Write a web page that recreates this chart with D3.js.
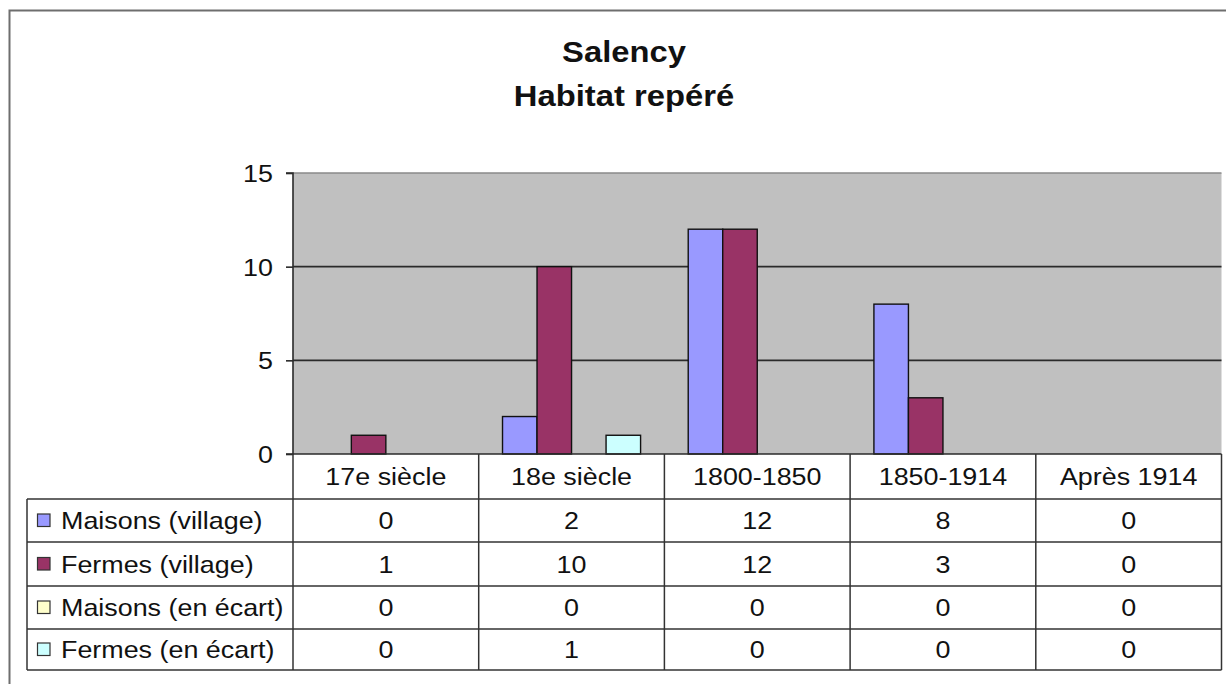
<!DOCTYPE html>
<html><head><meta charset="utf-8">
<script src="https://cdn.jsdelivr.net/npm/d3@7"></script>
<style>html,body{margin:0;padding:0;background:#fff;}svg{display:block;}</style>
</head><body>
<svg id="c" width="1226" height="684"></svg>
<script>
const categories = ["17e siècle", "18e siècle", "1800-1850", "1850-1914", "Après 1914"];
const seriesNames = ["Maisons (village)", "Fermes (village)", "Maisons (en écart)", "Fermes (en écart)"];
const maisonsVillage = [0, 2, 12, 8, 0];
const fermesVillage = [1, 10, 12, 3, 0];
const maisonsEcart = [0, 0, 0, 0, 0];
const fermesEcart = [0, 1, 0, 0, 0];
const yTicks = [0, 5, 10, 15];
const titleLines = ["Salency", "Habitat repéré"];
const colors = ["#9999FF", "#993366", "#FFFFCC", "#CCFFFF"];

const seriesValues = [maisonsVillage, fermesVillage, maisonsEcart, fermesEcart];
const series = seriesNames.map((n, i) => ({name: n, values: seriesValues[i], color: colors[i]}));

const svg = d3.select("#c");
const font = "'Liberation Sans', Arial, sans-serif";
const SX = 1.12;
svg.append("rect").attr("width",1226).attr("height",684).attr("fill","#fff");

// helper: place horizontally widened text
function place(sel, fx, fy, sx) {
  sel.attr("x",0).attr("y",0)
     .attr("transform", (d,i) => `translate(${fx(d,i)},${fy(d,i)}) scale(${sx},1)`);
  return sel;
}

// frame
svg.append("path").attr("d","M9.5,684 L9.5,10.5 L1226,10.5")
  .attr("fill","none").attr("stroke","#6e6e6e").attr("stroke-width",2);

const L = 293, R = 1221.5, T = 173, B = 454;
const x = d3.scaleBand().domain(categories).range([L, R]).paddingInner(0).paddingOuter(0);
const xs = d3.scaleBand().domain(seriesNames).range([0, x.bandwidth()]).paddingInner(0).paddingOuter(0.69);
const y = d3.scaleLinear().domain([0, 15]).range([B, T]);

// title
place(svg.append("g").selectAll("text").data(titleLines).join("text")
  .attr("text-anchor","middle").attr("font-family",font).attr("font-weight","bold")
  .attr("font-size",29).attr("fill","#111").text(d => d),
  () => 624, (d,i) => 62 + i*44, 1.13);

// plot background
svg.append("rect").attr("x",L).attr("y",T).attr("width",R-L).attr("height",B-T).attr("fill","#C0C0C0");

// gridlines
svg.append("g").selectAll("line").data(yTicks.filter(t => t>0)).join("line")
  .attr("x1",L).attr("x2",R).attr("y1",d=>y(d)).attr("y2",d=>y(d))
  .attr("stroke", d => d===15 ? "#8a8a8a" : "#2a2a2a").attr("stroke-width",1.6);

// bars
const g = svg.append("g");
series.forEach(s => {
  g.append("g").selectAll("rect").data(s.values.map((v,i)=>({v, c: categories[i]}))).join("rect")
    .filter(d => d.v > 0)
    .attr("x", d => x(d.c) + xs(s.name))
    .attr("y", d => y(d.v))
    .attr("width", xs.bandwidth())
    .attr("height", d => B - y(d.v))
    .attr("fill", s.color).attr("stroke","#111").attr("stroke-width",1.4);
});

// y axis
const yAxis = d3.axisLeft(y).tickValues(yTicks).tickSize(7).tickPadding(13).tickFormat(d3.format("d"));
const ya = svg.append("g").attr("transform",`translate(${L},0)`).call(yAxis);
ya.select(".domain").attr("stroke","#2a2a2a").attr("stroke-width",1.6).attr("d",`M-7,${T}H0V${B}H-7`);
ya.selectAll(".tick line").attr("stroke","#2a2a2a").attr("stroke-width",1.6);
ya.selectAll(".tick text").attr("font-family",font).attr("font-size",24).attr("fill","#111")
  .attr("dy","0.36em").attr("x", -20/SX).attr("transform",`scale(${SX},1)`);

// baseline
svg.append("line").attr("x1",L).attr("x2",R).attr("y1",B).attr("y2",B).attr("stroke","#2a2a2a").attr("stroke-width",1.6);

// data table
const rowTops = [B, 499, 542, 586, 629, 670];
const tblLeft = 27;
const lineCol = "#333";
svg.append("g").selectAll("line").data(rowTops.slice(1)).join("line")
  .attr("x1",tblLeft).attr("x2",R).attr("y1",d=>d).attr("y2",d=>d)
  .attr("stroke",lineCol).attr("stroke-width",1.5);
const bounds = categories.map(c => x(c)).concat([R]);
svg.append("g").selectAll("line").data(bounds).join("line")
  .attr("x1",d=>d).attr("x2",d=>d).attr("y1",B).attr("y2",670)
  .attr("stroke",lineCol).attr("stroke-width",1.5);
svg.append("line").attr("x1",tblLeft).attr("x2",tblLeft).attr("y1",499).attr("y2",670)
  .attr("stroke",lineCol).attr("stroke-width",1.5);

// category labels
place(svg.append("g").selectAll("text").data(categories).join("text")
  .attr("text-anchor","middle").attr("font-family",font).attr("font-size",24).attr("fill","#111")
  .text(d => d),
  d => x(d) + x.bandwidth()/2, () => (B+499)/2 + 8.5, SX);

// rows
series.forEach((s, r) => {
  const top = rowTops[r+1], bot = rowTops[r+2];
  const cy = (top + bot)/2;
  svg.append("rect").attr("x",37.5).attr("y",cy-6.5).attr("width",12.5).attr("height",12.5)
    .attr("fill",s.color).attr("stroke","#333").attr("stroke-width",1.2);
  place(svg.append("text").attr("font-family",font).attr("font-size",24)
    .attr("fill","#111").text(s.name), () => 61, () => cy + 8.5, SX);
  place(svg.append("g").selectAll("text").data(s.values).join("text")
    .attr("text-anchor","middle").attr("font-family",font).attr("font-size",24).attr("fill","#111")
    .text(d=>d),
    (d,i) => x(categories[i]) + x.bandwidth()/2, () => cy + 8.5, SX);
});
</script>
</body></html>
